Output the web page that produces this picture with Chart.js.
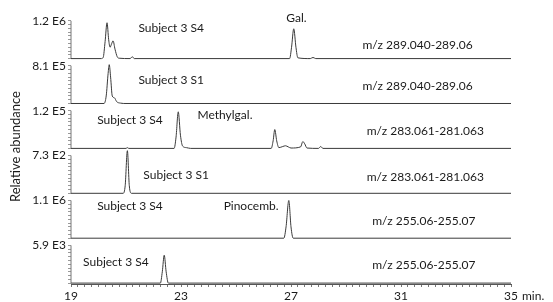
<!DOCTYPE html>
<html>
<head>
<meta charset="utf-8">
<script src="https://cdn.jsdelivr.net/npm/chart.js@4/dist/chart.umd.min.js"></script>
<style>
  html, body { margin: 0; padding: 0; background: #fff; }
  #wrap { width: 553px; height: 302px; }
</style>
</head>
<body>
<div id="wrap"><canvas id="chart"></canvas></div>
<script>
// full-scale intensity of each trace, top to bottom
const scaleLabels = ["1.2 E6", "8.1 E5", "1.2 E5", "7.3 E2", "1.1 E6", "5.9 E3"];
const subjectLabels = ["Subject 3 S4", "Subject 3 S1", "Subject 3 S4", "Subject 3 S1", "Subject 3 S4", "Subject 3 S4"];
const mzLabels = ["m/z 289.040-289.06", "m/z 289.040-289.06", "m/z 283.061-281.063",
                  "m/z 283.061-281.063", "m/z 255.06-255.07", "m/z 255.06-255.07"];
const peakNames = ["Gal.", "", "Methylgal.", "", "Pinocemb.", ""];
const xTickLabels = [19, 23, 27, 31, 35];

// retention time (min) and relative abundance (1 = full scale) for each trace
const time1 = [19, 20.1, 20.17, 20.24, 20.31, 20.37, 20.42, 20.47, 20.53, 20.6, 20.68, 20.75, 21.15, 21.23, 21.3, 26.95, 27.02, 27.1, 27.18, 27.25, 27.7, 27.8, 27.9, 35];
const abund1 = [0, 0, 0.03, 0.45, 0.95, 0.5, 0.3, 0.38, 0.47, 0.25, 0.05, 0.01, 0, 0.05, 0, 0, 0.3, 0.79, 0.3, 0.02, 0, 0.03, 0, 0];

const time2 = [19, 20.2, 20.28, 20.35, 20.39, 20.44, 20.5, 20.58, 20.66, 20.8, 21.0, 35];
const abund2 = [0, 0, 0.2, 0.8, 1.03, 0.7, 0.2, 0.15, 0.05, 0.01, 0, 0];

const time3 = [19, 21.0, 21.05, 21.1, 22.75, 22.82, 22.9, 22.98, 23.06, 23.2, 23.35, 26.28, 26.35, 26.41, 26.48, 26.56, 26.7, 26.8, 26.9, 27.0, 27.35, 27.43, 27.5, 27.58, 28.0, 28.08, 28.16, 35];
const abund3 = [0, 0, 0.02, 0, 0, 0.3, 0.97, 0.35, 0.06, 0.02, 0, 0, 0.2, 0.5, 0.2, 0.02, 0.05, 0.07, 0.04, 0.01, 0.04, 0.18, 0.12, 0.01, 0, 0.05, 0, 0];

const time4 = [19, 20.9, 20.97, 21.05, 21.12, 21.2, 35];
const abund4 = [0, 0, 0.2, 1.13, 0.2, 0, 0];

const time5 = [19, 26.74, 26.82, 26.92, 27.0, 27.08, 35];
const abund5 = [0, 0, 0.3, 1.0, 0.3, 0, 0];

const time6 = [19, 22.25, 22.32, 22.39, 22.46, 22.54, 35];
const abund6 = [0, 0, 0.3, 0.74, 0.3, 0, 0];

const times = [time1, time2, time3, time4, time5, time6];
const abunds = [abund1, abund2, abund3, abund4, abund5, abund6];

const PANEL_H = 0.84;   // height of full scale inside one panel (panel pitch = 1)
const FONT = "Lato, 'Open Sans', sans-serif";

function panelBase(i) { return 5 - i; }

const traceSets = times.map((t, i) => ({
  data: t.map((x, j) => ({ x: x, y: panelBase(i) + abunds[i][j] * PANEL_H })),
  borderColor: "#3a3a3a",
  borderWidth: 1,
  pointRadius: 0,
  cubicInterpolationMode: "monotone",
  clip: false
}));

// left axis segment of every panel
const axisPts = [];
scaleLabels.forEach((s, i) => {
  axisPts.push({ x: xTickLabels[0], y: panelBase(i) });
  axisPts.push({ x: xTickLabels[0], y: panelBase(i) + PANEL_H });
  axisPts.push({ x: xTickLabels[0], y: null });
});
traceSets.push({
  data: axisPts,
  borderColor: "#777",
  borderWidth: 1,
  pointRadius: 0,
  spanGaps: false,
  clip: false
});

// text positions: [x in min, height above baseline as fraction of full scale]
const subjectPos = [[21.45, 0.82], [21.45, 0.62], [19.95, 0.74], [21.63, 0.47], [19.95, 0.84], [19.44, 0.55]];
const mzPos = [[29.6, 0.37], [29.6, 0.47], [29.75, 0.45], [29.75, 0.42], [29.95, 0.44], [29.95, 0.47]];
const peakPos = [[27.2, 1.08, "center"], null, [23.6, 0.87, "left"], null, [24.55, 0.84, "left"], null];

const notesPlugin = {
  id: "notes",
  afterDraw(chart) {
    const { ctx, scales } = chart;
    const xs = scales.x, ys = scales.y;
    ctx.save();
    ctx.fillStyle = "#1a1a1a";
    ctx.font = "12px " + FONT;
    ctx.textBaseline = "middle";
    const put = (text, x, rel, i, align) => {
      ctx.textAlign = align || "left";
      ctx.fillText(text, xs.getPixelForValue(x), ys.getPixelForValue(panelBase(i) + rel * PANEL_H));
    };
    for (let i = 0; i < 6; i++) {
      put(subjectLabels[i], subjectPos[i][0], subjectPos[i][1], i);
      put(mzLabels[i], mzPos[i][0], mzPos[i][1], i);
      if (peakNames[i]) put(peakNames[i], peakPos[i][0], peakPos[i][1], i, peakPos[i][2]);
    }
    // unit after the last x tick
    ctx.textAlign = "left";
    ctx.textBaseline = "top";
    ctx.fillText("min.", xs.getPixelForValue(35) + 11, xs.top + 6);
    ctx.restore();
  }
};

new Chart(document.getElementById("chart"), {
  type: "line",
  data: { datasets: traceSets },
  options: {
    responsive: true,
    maintainAspectRatio: false,
    animation: false,
    layout: { padding: { top: 8, right: 42, left: 0, bottom: 0 } },
    plugins: { legend: { display: false }, tooltip: { enabled: false } },
    scales: {
      x: {
        type: "linear",
        min: 19,
        max: 35,
        afterBuildTicks(scale) {
          const ticks = [];
          for (let v = 19; v <= 35; v += 0.25) ticks.push({ value: v });
          scale.ticks = ticks;
        },
        afterFit(scale) { scale.height = 18; },
        ticks: {
          autoSkip: false,
          maxRotation: 0,
          padding: 2,
          color: "#1a1a1a",
          font: { family: FONT, size: 12 },
          callback: (v) => xTickLabels.includes(v) ? String(v) : ""
        },
        grid: { drawOnChartArea: false, tickLength: 3, color: "#777" },
        border: { display: true, color: "#555" }
      },
      y: {
        type: "linear",
        min: -0.02,
        max: 6.1,
        afterBuildTicks(scale) {
          const ticks = [];
          for (let i = 0; i < 6; i++) {
            for (let k = 0; k <= 10; k++) {
              ticks.push({ value: panelBase(i) + k * PANEL_H / 10, lab: k === 10 ? scaleLabels[i] : "" });
            }
          }
          scale.ticks = ticks;
        },
        afterFit(scale) { scale.width = 71; },
        ticks: {
          autoSkip: false,
          padding: 2,
          color: "#1a1a1a",
          font: { family: FONT, size: 12 },
          callback: (v, idx, ticks) => ticks[idx].lab || ""
        },
        grid: { drawOnChartArea: false, tickLength: 3, color: "#999" },
        border: { display: false },
        title: {
          display: true,
          text: "Relative abundance",
          color: "#1a1a1a",
          font: { family: FONT, size: 13 },
          padding: { top: 8, bottom: 0 }
        }
      }
    }
  },
  plugins: [notesPlugin]
});
</script>
</body>
</html>
